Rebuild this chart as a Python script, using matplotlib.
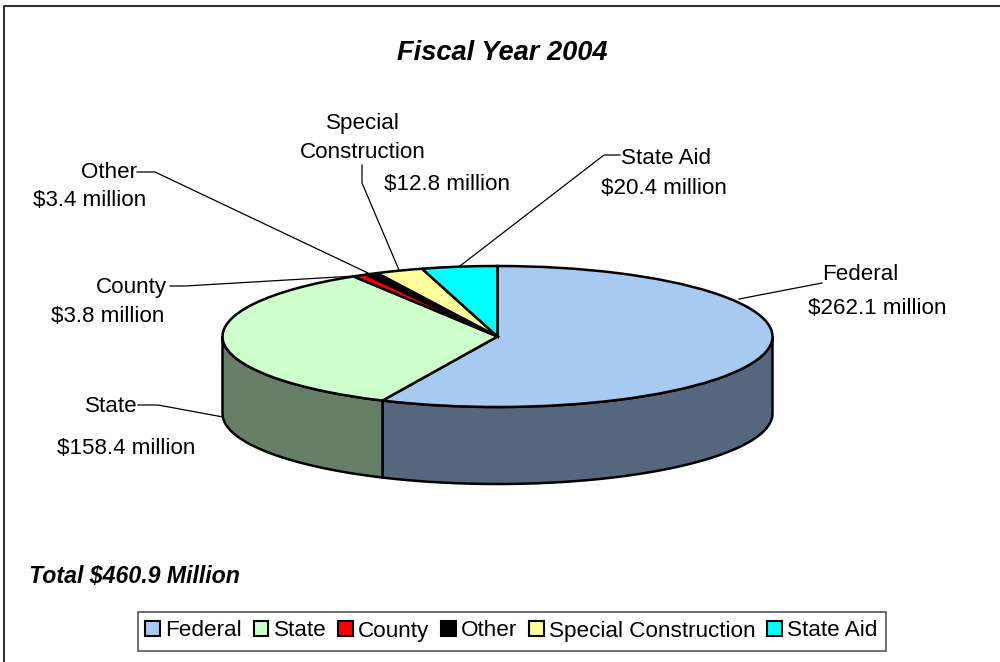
import numpy as np
import matplotlib
matplotlib.use('Agg')
import matplotlib.pyplot as plt

plt.rcParams['font.family'] = ['Liberation Sans', 'DejaVu Sans']

categories = ['Federal', 'State', 'County', 'Other', 'Special Construction', 'State Aid']
values = [262.1, 158.4, 3.8, 3.4, 12.8, 20.4]
colors = ['#a6caf0', '#ccffcc', '#ff0000', '#000000', '#ffff99', '#00ffff']
side_colors = ['#56677d', '#677f67']

W, H = 1000, 662
cx, cy, rx, ry, depth = 497.5, 336.5, 275, 70.5, 77

fig = plt.figure(figsize=(W / 100, H / 100), dpi=100)

# pie stretched into an ellipse, axes covers the whole figure
ax = fig.add_axes([0, 0, 1, 1])
wedges, _ = ax.pie(values, colors=colors, startangle=90, counterclock=False,
                   wedgeprops={'edgecolor': 'black', 'linewidth': 1.8, 'zorder': 3})

# side wall for the slices on the front half
edges = 90 - np.cumsum([0] + values) / sum(values) * 360
d = depth / ry
for i in range(2):
    a0 = min(edges[i], 0)
    a1 = max(edges[i + 1], -180)
    t = np.radians(np.linspace(a0, a1, 200))
    xs = np.r_[np.cos(t), np.cos(t[::-1])]
    ys = np.r_[np.sin(t), np.sin(t[::-1]) - d]
    ax.fill(xs, ys, facecolor=side_colors[i], edgecolor='black', linewidth=1.8, zorder=2)

ax.set_aspect('auto')
ax.set_xlim(-cx / rx, (W - cx) / rx)
ax.set_ylim((cy - H) / ry, cy / ry)
ax.axis('off')

# overlay in pixel units for labels and leader lines
ov = fig.add_axes([0, 0, 1, 1], facecolor='none')
ov.set_xlim(0, W)
ov.set_ylim(H, 0)
ov.axis('off')

# border only on the left and top, the picture is cut off at the other two sides
ov.plot([4, 4, 1000], [662, 5.5, 5.5], color='#333333', lw=1.5, clip_on=False)

leaders = [
    ([739, 822], [299, 283]),
    ([223, 158, 138], [417, 405, 405]),
    ([355, 185, 170], [276, 286, 286]),
    ([368, 155, 137], [273, 172, 172]),
    ([399, 362, 362], [270, 183, 165]),
    ([460, 604, 620], [266, 155, 155]),
]
for lx, ly in leaders:
    ov.plot(lx, ly, color='black', lw=0.9)

labels = [
    ('Federal', 860.5, 275), ('$262.1 million', 877, 309),
    ('State', 111, 407), ('$158.4 million', 126, 448),
    ('County', 131, 287), ('$3.8 million', 108, 317),
    ('Other', 109, 173), ('$3.4 million', 90, 201),
    ('Special', 363, 124), ('Construction', 362.5, 152), ('$12.8 million', 447, 184),
    ('State Aid', 666, 158), ('$20.4 million', 664, 189),
]
for s, x, y in labels:
    ov.text(x, y, s, ha='center', va='center', fontsize=16.1, color='black')

ov.text(502.5, 53.5, 'Fiscal Year 2004', ha='center', va='center', fontsize=19.6,
        fontweight='bold', fontstyle='italic')
ov.text(29, 576.5, 'Total $460.9 Million', ha='left', va='center', fontsize=16.7,
        fontweight='bold', fontstyle='italic')

# legend box drawn by hand so that its height can match
ov.add_patch(plt.Rectangle((138, 612), 748, 39, facecolor='white', edgecolor='#555555',
                           linewidth=1.2, zorder=4))
handles = [plt.Rectangle((0, 0), 1, 1, facecolor=c, edgecolor='black', linewidth=1.5) for c in colors]
leg = ov.legend(handles, categories, ncol=6, loc='center', bbox_to_anchor=(511.5, 631),
                bbox_transform=ov.transData, fontsize=16.2, frameon=False,
                handlelength=0.65, handleheight=0.65,
                handletextpad=0.24, columnspacing=0.52, borderpad=0, borderaxespad=0)
leg.set_zorder(5)

fig.savefig('out.png', dpi=100, facecolor='white')
